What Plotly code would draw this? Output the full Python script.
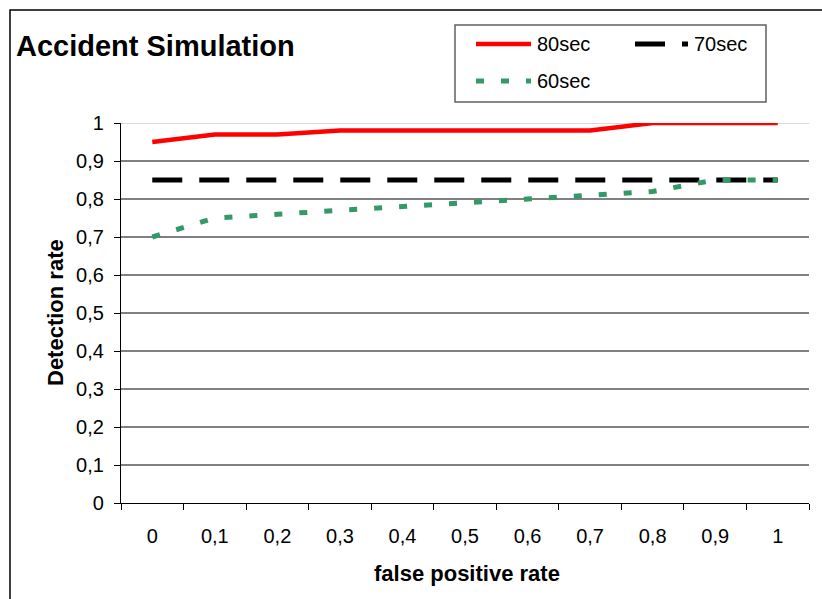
import plotly.graph_objects as go

# Category labels along the x axis (false positive rate)
fpr_labels = ["0", "0,1", "0,2", "0,3", "0,4", "0,5", "0,6", "0,7", "0,8", "0,9", "1"]

# Detection rate for each time window
det_80sec = [0.95, 0.97, 0.97, 0.98, 0.98, 0.98, 0.98, 0.98, 1.0, 1.0, 1.0]
det_70sec = [0.85, 0.85, 0.85, 0.85, 0.85, 0.85, 0.85, 0.85, 0.85, 0.85, 0.85]
det_60sec = [0.70, 0.75, 0.76, 0.77, 0.78, 0.79, 0.80, 0.81, 0.82, 0.85, 0.85]

y_ticks = [0, 0.1, 0.2, 0.3, 0.4, 0.5, 0.6, 0.7, 0.8, 0.9, 1.0]
y_tick_text = ["0", "0,1", "0,2", "0,3", "0,4", "0,5", "0,6", "0,7", "0,8", "0,9", "1"]

W, H = 822, 599
L, R, T, B = 121, 13, 123, 96
PW, PH = W - L - R, H - T - B

FONT = "Liberation Sans, Arial, sans-serif"
RED, BLACK, GREEN = "#ff0000", "#000000", "#339966"


def px(x):
    return (x - L) / PW


def py(y):
    return (H - B - y) / PH


fig = go.Figure()
fig.add_trace(go.Scatter(x=fpr_labels, y=det_80sec, mode="lines", name="80sec",
                         line=dict(color=RED, width=4.5), showlegend=False))
fig.add_trace(go.Scatter(x=fpr_labels, y=det_70sec, mode="lines", name="70sec",
                         line=dict(color=BLACK, width=5, dash="30px,17px"), showlegend=False))
fig.add_trace(go.Scatter(x=fpr_labels, y=det_60sec, mode="lines", name="60sec",
                         line=dict(color=GREEN, width=5, dash="8px,17px"), showlegend=False))

shapes = []
# outer chart frame (continues past the right and bottom edges)
shapes.append(dict(type="rect", xref="paper", yref="paper",
                   x0=px(10), x1=px(W + 20), y0=py(H + 20), y1=py(10),
                   line=dict(color="#000000", width=1.5), layer="below"))
# lighter top gridline at 1.0
shapes.append(dict(type="line", xref="paper", yref="y", x0=0, x1=1, y0=1, y1=1,
                   line=dict(color="#d9d9d9", width=2), layer="below"))

# legend box
lx0, lx1, ly0, ly1 = 455, 766, 25, 102
shapes.append(dict(type="rect", xref="paper", yref="paper",
                   x0=px(lx0), x1=px(lx1), y0=py(ly1), y1=py(ly0),
                   line=dict(color="#606060", width=1.5), fillcolor="white"))
legend_items = [
    ("80sec", RED, 4.5, "solid", 476, 531, 44),
    ("70sec", BLACK, 5, "30px,17px", 635, 688, 44),
    ("60sec", GREEN, 5, "8px,17px", 476, 531, 81),
]
annotations = []
for name, color, width, dash, x0, x1, yy in legend_items:
    shapes.append(dict(type="line", xref="paper", yref="paper",
                       x0=px(x0), x1=px(x1), y0=py(yy), y1=py(yy),
                       line=dict(color=color, width=width, dash=dash)))
    annotations.append(dict(text=name, xref="paper", yref="paper",
                            x=px(x1 + 4), y=py(yy), xanchor="left", yanchor="middle",
                            showarrow=False, font=dict(family=FONT, size=20, color="#000")))

annotations.append(dict(text="<b>Accident Simulation</b>", xref="paper", yref="paper",
                        x=px(14), y=py(46), xanchor="left", yanchor="middle",
                        showarrow=False, font=dict(family=FONT, size=29, color="#000")))
annotations.append(dict(text="<b>false positive rate</b>", xref="paper", yref="paper",
                        x=px(467), y=py(573), xanchor="center", yanchor="middle",
                        showarrow=False, font=dict(family=FONT, size=22, color="#000")))
annotations.append(dict(text="<b>Detection rate</b>", xref="paper", yref="paper",
                        x=px(55), y=py(313), xanchor="center", yanchor="middle",
                        textangle=-90, showarrow=False,
                        font=dict(family=FONT, size=22, color="#000")))

fig.update_layout(
    width=W, height=H,
    margin=dict(l=L, r=R, t=T, b=B),
    paper_bgcolor="white", plot_bgcolor="white",
    font=dict(family=FONT, size=20, color="#000"),
    shapes=shapes, annotations=annotations,
    showlegend=False,
)
fig.update_xaxes(type="category", categoryorder="array", categoryarray=fpr_labels,
                 range=[-0.5, 10.5], tickson="boundaries",
                 showline=True, linecolor="#000", linewidth=1.2,
                 ticks="outside", ticklen=6, tickcolor="#000", tickwidth=1,
                 ticklabelstandoff=15,
                 showgrid=False, zeroline=False,
                 tickfont=dict(family=FONT, size=20))
fig.update_yaxes(range=[0, 1], tickvals=y_ticks, ticktext=y_tick_text,
                 showline=True, linecolor="#000", linewidth=1.2,
                 ticks="outside", ticklen=6, tickcolor="#000", tickwidth=1,
                 ticklabelstandoff=6,
                 showgrid=True, gridcolor="#808080", gridwidth=1.5,
                 zeroline=False, tickfont=dict(family=FONT, size=20))

fig.write_html("out.html")
